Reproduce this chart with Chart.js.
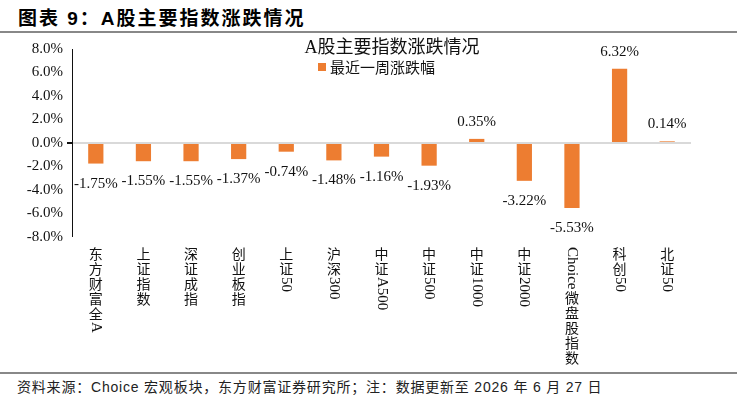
<!DOCTYPE html>
<html>
<head>
<meta charset="utf-8">
<script src="https://cdn.jsdelivr.net/npm/chart.js@4.4.1/dist/chart.umd.min.js"></script>
<style>
  body { margin: 0; width: 737px; height: 398px; background: #fff; position: relative; overflow: hidden; font-family: "Liberation Sans", "Noto Sans CJK SC", sans-serif; }
  #head { position: absolute; left: 18px; top: 3px; font-size: 19px; font-weight: bold; letter-spacing: 2px; color: #000; }
  #rule1 { position: absolute; left: 0; top: 31px; width: 737px; height: 2px; background: #888; }
  #box { position: absolute; left: 0; top: 34px; width: 737px; height: 338px; }
  #rule2 { position: absolute; left: 0; top: 372px; width: 737px; height: 2px; background: #888; }
  #foot { position: absolute; left: 17px; top: 376px; font-size: 14px; letter-spacing: 0.8px; color: #222; }
</style>
</head>
<body>
<div id="head">图表 9：A股主要指数涨跌情况</div>
<div id="rule1"></div>
<div id="box"><canvas id="chart" width="737" height="338"></canvas></div>
<div id="rule2"></div>
<div id="foot">资料来源：Choice 宏观板块，东方财富证券研究所；注：数据更新至 2026 年 6 月 27 日</div>
<script>
const categories = ['东方财富全A', '上证指数', '深证成指', '创业板指', '上证50', '沪深300', '中证A500', '中证500', '中证1000', '中证2000', 'Choice微盘股指数', '科创50', '北证50'];
const weeklyChange = [-1.75, -1.55, -1.55, -1.37, -0.74, -1.48, -1.16, -1.93, 0.35, -3.22, -5.53, 6.32, 0.14];
const seriesName = '最近一周涨跌幅';
const chartTitle = 'A股主要指数涨跌情况';
const yTicks = { min: -8, max: 8, step: 2 };

const orange = '#ED7D31';
const serif = '"Liberation Serif", "Times New Roman", serif';
const cjk = '"Noto Sans CJK SC", sans-serif';

// value labels above / below each bar
const valueLabels = {
  id: 'valueLabels',
  afterDatasetsDraw(chart) {
    const ctx = chart.ctx;
    const meta = chart.getDatasetMeta(0);
    ctx.save();
    ctx.font = '15px ' + serif;
    ctx.fillStyle = '#111';
    ctx.textAlign = 'center';
    ctx.textBaseline = 'middle';
    meta.data.forEach((bar, i) => {
      const v = weeklyChange[i];
      const y = v < 0 ? bar.y + 20 : bar.y - 17;
      ctx.fillText(v.toFixed(2) + '%', bar.x, y);
    });
    ctx.restore();
  }
};

// vertical category labels: CJK upright, latin runs rotated
const verticalLabels = {
  id: 'verticalLabels',
  afterDraw(chart) {
    const ctx = chart.ctx;
    const xs = chart.scales.x;
    const top = chart.chartArea.bottom + 10;
    ctx.save();
    ctx.fillStyle = '#111';
    categories.forEach((label, i) => {
      const x = xs.getPixelForValue(i);
      let y = top;
      const runs = label.match(/[\u4e00-\u9fff]|[^\u4e00-\u9fff]+/g);
      runs.forEach(run => {
        if (/[\u4e00-\u9fff]/.test(run)) {
          ctx.font = '14px ' + cjk;
          ctx.textAlign = 'center';
          ctx.textBaseline = 'top';
          ctx.fillText(run, x, y);
          y += 15;
        } else {
          ctx.font = '15px ' + serif;
          ctx.save();
          ctx.translate(x, y);
          ctx.rotate(Math.PI / 2);
          ctx.textAlign = 'left';
          ctx.textBaseline = 'middle';
          ctx.fillText(run, 0, 0);
          ctx.restore();
          y += ctx.measureText(run).width + 1;
        }
      });
    });
    ctx.restore();
  }
};

// chart title and legend drawn over the plot, like the original
const titleLegend = {
  id: 'titleLegend',
  afterDraw(chart) {
    const ctx = chart.ctx;
    ctx.save();
    ctx.fillStyle = '#111';
    ctx.textAlign = 'center';
    ctx.textBaseline = 'middle';
    ctx.font = '18px ' + serif + ', ' + cjk;
    ctx.fillText(chartTitle, 392, 14);
    ctx.fillStyle = chart.data.datasets[0].backgroundColor;
    ctx.fillRect(318, 29, 8, 8);
    ctx.fillStyle = '#111';
    ctx.textAlign = 'left';
    ctx.font = '15px ' + cjk;
    ctx.fillText(seriesName, 330, 33);
    ctx.restore();
  }
};

new Chart(document.getElementById('chart'), {
  type: 'bar',
  data: {
    labels: categories,
    datasets: [{
      label: seriesName,
      data: weeklyChange,
      backgroundColor: orange,
      barPercentage: 0.32,
      categoryPercentage: 1
    }]
  },
  options: {
    responsive: false,
    animation: false,
    layout: { padding: { top: 15, right: 46, left: 0, bottom: 0 } },
    plugins: {
      legend: { display: false },
      title: { display: false },
      tooltip: { enabled: false }
    },
    scales: {
      x: {
        grid: { display: false },
        border: { display: false },
        ticks: { display: false },
        afterFit: s => { s.height = 135; }
      },
      y: {
        min: yTicks.min,
        max: yTicks.max,
        afterFit: s => { s.width = 72; },
        ticks: {
          stepSize: yTicks.step,
          color: '#111',
          padding: 4,
          font: { family: serif, size: 15 },
          callback: v => v.toFixed(1) + '%'
        },
        grid: {
          drawOnChartArea: true,
          tickLength: 5,
          tickColor: '#111',
          color: c => c.tick && c.tick.value === 0 ? '#d9d9d9' : 'rgba(0,0,0,0)',
          lineWidth: c => c.tick && c.tick.value === 0 ? 2 : 0
        },
        border: { display: true, color: '#111', width: 1 }
      }
    }
  },
  plugins: [valueLabels, verticalLabels, titleLegend]
});
</script>
</body>
</html>
